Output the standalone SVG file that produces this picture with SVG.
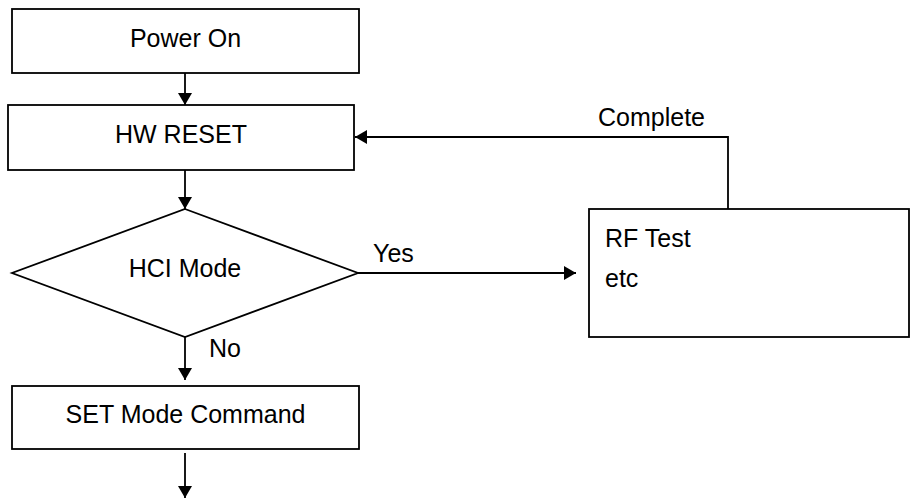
<svg xmlns="http://www.w3.org/2000/svg" width="912" height="500" viewBox="0 0 912 500">
<defs>
<marker id="ah" markerWidth="12" markerHeight="14" refX="12" refY="7" orient="auto" markerUnits="userSpaceOnUse">
<path d="M0,0 L12,7 L0,14 Z" fill="#000"/>
</marker>
<style>
.n{fill:#fff;stroke:#000;stroke-width:1.8}
.t{font-family:"Liberation Sans",Arial,sans-serif;font-size:25px;fill:#000}
.c{text-anchor:middle}
.e{fill:none;stroke:#000;stroke-width:1.8;marker-end:url(#ah)}
</style>
</defs>
<rect width="912" height="500" fill="#fff"/>
<g id="connectors">
<line class="e" x1="185" y1="73" x2="185" y2="105"/>
<line class="e" x1="185" y1="170" x2="185" y2="209"/>
<line class="e" x1="185" y1="337" x2="185" y2="380"/>
<line class="e" x1="185" y1="453" x2="185" y2="498"/>
<line class="e" x1="358" y1="273" x2="576" y2="273"/>
<polyline class="e" points="728,209 728,137 355,137"/>
<text class="t" x="373" y="262">Yes</text>
<text class="t" x="209" y="357">No</text>
<text class="t" x="598" y="126">Complete</text>
</g>
<g id="power-on">
<rect class="n" x="12" y="9" width="347" height="64"/>
<text class="t c" x="185.5" y="47">Power On</text>
</g>
<g id="hw-reset">
<rect class="n" x="8" y="105" width="346" height="65"/>
<text class="t c" x="181" y="143">HW RESET</text>
</g>
<g id="hci-mode">
<polygon class="n" points="185,209 358,273 185,337 12,273"/>
<text class="t c" x="185" y="277">HCI Mode</text>
</g>
<g id="set-mode">
<rect class="n" x="12" y="386" width="347" height="63"/>
<text class="t c" x="185.5" y="423">SET Mode Command</text>
</g>
<g id="rf-test">
<rect class="n" x="589" y="209" width="320" height="128"/>
<text class="t" x="605" y="247">RF Test</text>
<text class="t" x="605" y="287">etc</text>
</g>
</svg>
